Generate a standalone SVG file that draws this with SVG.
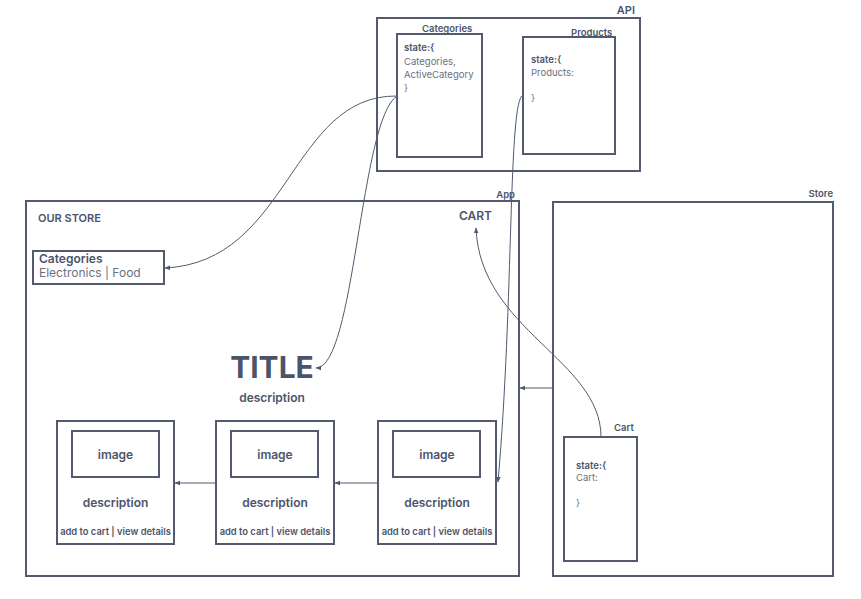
<svg xmlns="http://www.w3.org/2000/svg" width="861" height="599" viewBox="0 0 861 599">
<defs>
<style>
.box{fill:#fff;stroke:#535a6e;stroke-width:2}
.c{fill:none;stroke:#535a6e;stroke-width:1}
text{font-family:Inter,"Noto Sans","Liberation Sans",sans-serif;fill:#4d5469}
.b{font-weight:600}
.g{fill:#6b7080}
.s9{font-size:9.5px}
.s10{font-size:11px}
.s11{font-size:12px}
.mid{text-anchor:middle}
.end{text-anchor:end}
.atc{font-size:9.4px;font-weight:600}
</style>
<marker id="ah" viewBox="0 0 10 10" refX="9" refY="5" markerWidth="6" markerHeight="6" orient="auto-start-reverse" markerUnits="userSpaceOnUse">
<path d="M0,1 L10,5 L0,9 z" fill="#535a6e"/>
</marker>
</defs>
<rect width="861" height="599" fill="#fff"/>

<g id="api">
<rect class="box" x="377" y="18" width="263" height="153"/>
<text class="b s10 end" x="635" y="14">API</text>
</g>
<g id="categories-state">
<rect class="box" x="397" y="34" width="85" height="123"/>
<text class="b s9" x="422" y="32">Categories</text>
<text class="b s9" x="404" y="51">state:{</text>
<text class="s9 g" x="404" y="65">Categories,</text>
<text class="s9 g" x="404" y="78">ActiveCategory</text>
<text class="s9 g" x="404" y="91">}</text>
</g>
<g id="products-state">
<rect class="box" x="523" y="37" width="92" height="117"/>
<text class="b s9" x="571" y="36">Products</text>
<text class="b s9" x="531" y="63">state:{</text>
<text class="s9 g" x="531" y="76">Products:</text>
<text class="s9 g" x="531" y="101">}</text>
</g>

<g id="app">
<rect class="box" x="26" y="201" width="493" height="375"/>
<text class="b s9 end" x="515" y="198">App</text>
<text class="b s10" x="38" y="222">OUR STORE</text>
<text class="b s11" x="459" y="220">CART</text>
</g>
<g id="categories-nav">
<rect class="box" x="33" y="251" width="131" height="33"/>
<text class="b s11" x="39" y="263">Categories</text>
<text class="s11 g" x="39" y="277">Electronics | Food</text>
</g>
<g id="title">
<text class="mid" x="272" y="378" style="font-size:30px;font-weight:700">TITLE</text>
<text class="b s11 mid" x="272" y="402">description</text>
</g>
<g id="card1">
<rect class="box" x="57" y="421" width="117" height="123"/>
<rect class="box" x="72" y="431" width="87" height="46"/>
<text class="b s11 mid" x="115.5" y="459">image</text>
<text class="b s11 mid" x="115.5" y="507">description</text>
<text class="atc mid" x="115.5" y="535">add to cart | view details</text>
</g>
<g id="card2">
<rect class="box" x="216" y="421" width="118" height="123"/>
<rect class="box" x="231" y="431" width="87" height="46"/>
<text class="b s11 mid" x="275" y="459">image</text>
<text class="b s11 mid" x="275" y="507">description</text>
<text class="atc mid" x="275" y="535">add to cart | view details</text>
</g>
<g id="card3">
<rect class="box" x="378" y="421" width="118" height="123"/>
<rect class="box" x="393" y="431" width="87" height="46"/>
<text class="b s11 mid" x="437" y="459">image</text>
<text class="b s11 mid" x="437" y="507">description</text>
<text class="atc mid" x="437" y="535">add to cart | view details</text>
</g>

<g id="store">
<rect class="box" x="553" y="202" width="280" height="374"/>
<text class="b s9 end" x="833" y="197">Store</text>
</g>
<g id="cart-state">
<rect class="box" x="564" y="437" width="73" height="124"/>
<text class="b s9" x="614" y="431">Cart</text>
<text class="b s9" x="576" y="469">state:{</text>
<text class="s9 g" x="576" y="481">Cart:</text>
<text class="s9 g" x="576" y="506">}</text>
</g>

<g id="connectors">
<path class="c" d="M397,96 C290,95 290,262 165,268" marker-end="url(#ah)"/>
<path class="c" d="M397,96 C360,120 355,368 316,368" marker-end="url(#ah)"/>
<path class="c" d="M523,95 C508,100 514,300 498,482" marker-end="url(#ah)"/>
<path class="c" d="M601,437 C601,360 480,330 476,228" marker-end="url(#ah)"/>
<path class="c" d="M553,388 L520,388" marker-end="url(#ah)"/>
<path class="c" d="M378,483 L335,483" marker-end="url(#ah)"/>
<path class="c" d="M216,483 L175,483" marker-end="url(#ah)"/>
</g>
</svg>
